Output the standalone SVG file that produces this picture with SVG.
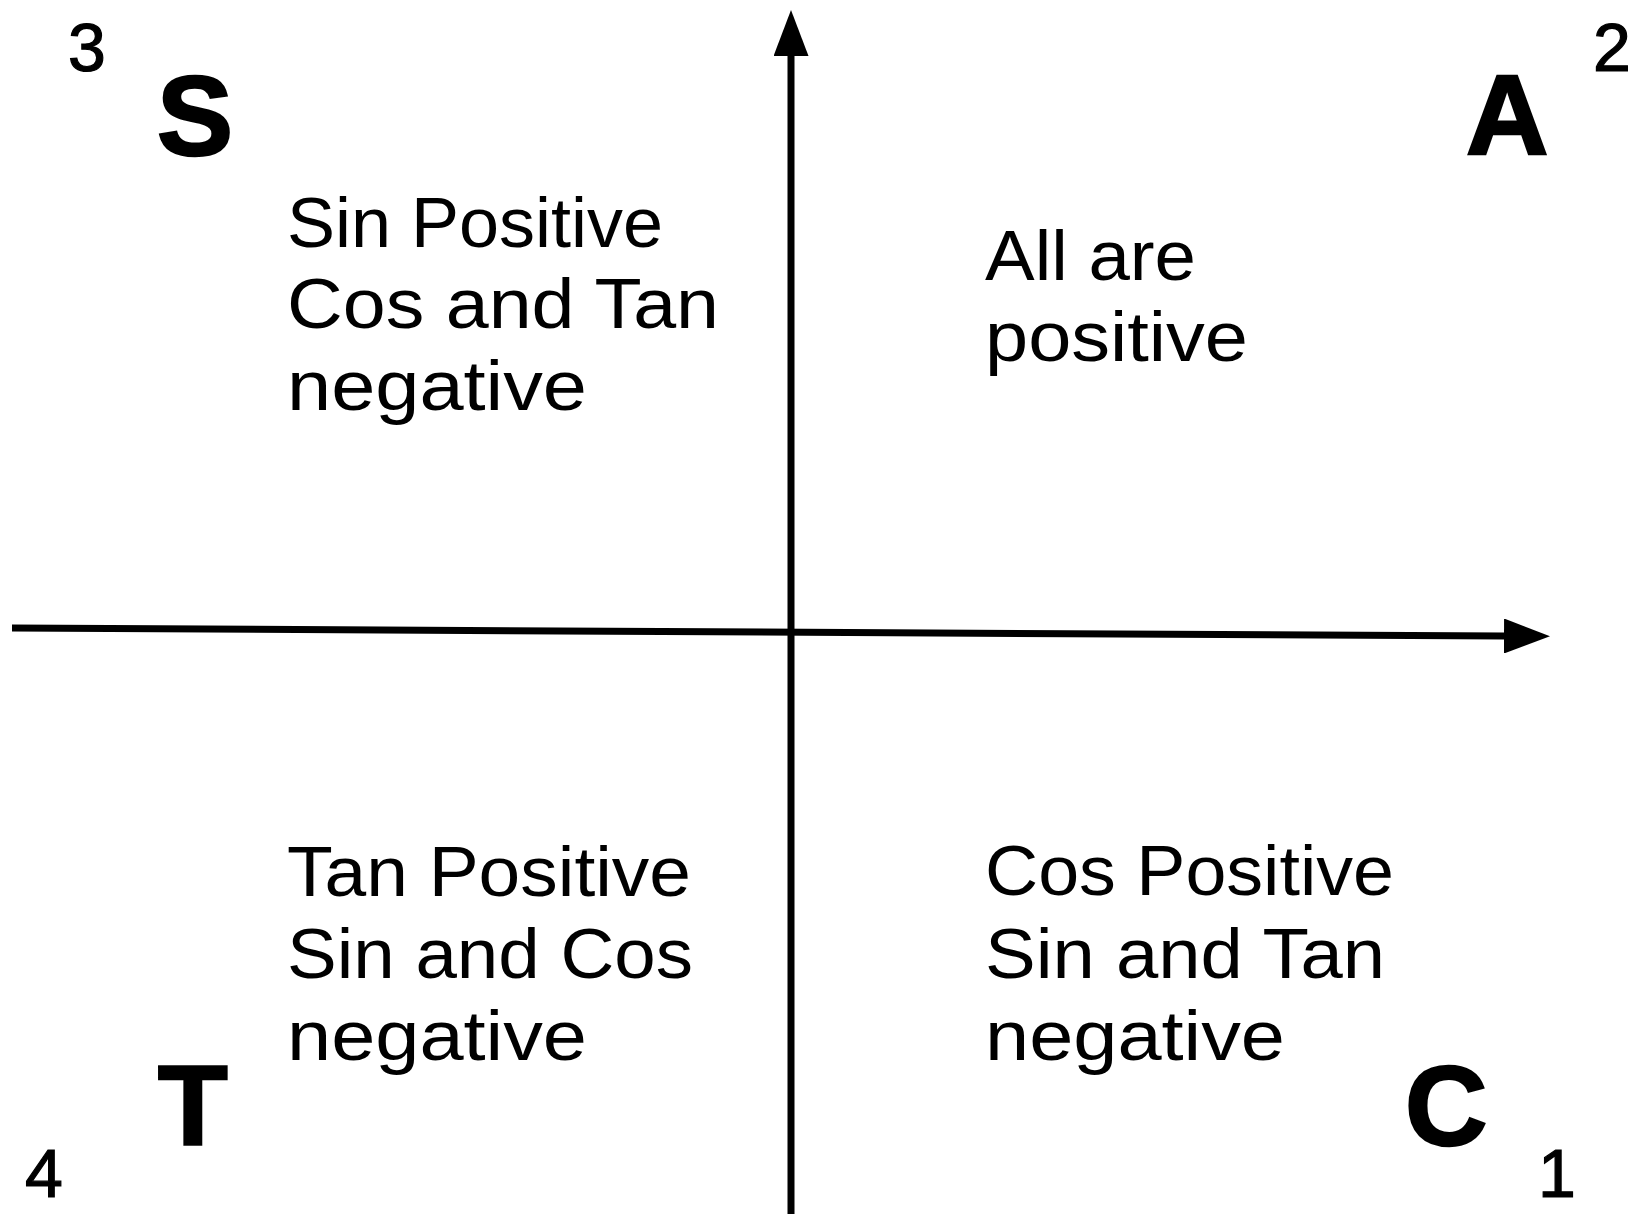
<svg xmlns="http://www.w3.org/2000/svg" width="1638" height="1214" viewBox="0 0 1638 1214">
<defs>
<style>
.axis{stroke:#000;stroke-width:7;fill:none}
.num{font-family:"Liberation Sans",Arial,sans-serif;font-size:68px;fill:#000;stroke:#000;stroke-width:1.2}
.big{font-family:"Liberation Sans",Arial,sans-serif;font-weight:bold;font-size:114px;fill:#000;stroke:#000;stroke-width:2.5}
.body{font-family:"Liberation Sans",Arial,sans-serif;font-size:70px;fill:#000}
</style>
<marker id="arrow" markerUnits="userSpaceOnUse" markerWidth="46" markerHeight="35" refX="0" refY="17.5" orient="auto">
<path d="M0,0 L46,17.5 L0,35 z" fill="#000"/>
</marker>
</defs>
<rect width="1638" height="1214" fill="#fff"/>
<g id="connectors">
<line class="axis" x1="791" y1="1214" x2="791" y2="56" marker-end="url(#arrow)"/>
<line class="axis" x1="12" y1="628" x2="1504" y2="636" marker-end="url(#arrow)"/>
</g>
<g id="corner-numbers">
<text class="num" x="68" y="71">3</text>
<text class="num" x="1593" y="71">2</text>
<text class="num" x="25" y="1197">4</text>
<text class="num" x="1538" y="1197">1</text>
</g>
<g id="quadrant-2">
<text class="big" x="157" y="155">S</text>
<text class="body" x="287" y="247" textLength="376" lengthAdjust="spacingAndGlyphs">Sin Positive</text>
<text class="body" x="287" y="328" textLength="432" lengthAdjust="spacingAndGlyphs">Cos and Tan</text>
<text class="body" x="287" y="410" textLength="300" lengthAdjust="spacingAndGlyphs">negative</text>
</g>
<g id="quadrant-1">
<text class="big" x="1466" y="154">A</text>
<text class="body" x="985" y="280" textLength="211" lengthAdjust="spacingAndGlyphs">All are</text>
<text class="body" x="985" y="361" textLength="263" lengthAdjust="spacingAndGlyphs">positive</text>
</g>
<g id="quadrant-3">
<text class="big" x="158" y="1144">T</text>
<text class="body" x="287" y="896" textLength="404" lengthAdjust="spacingAndGlyphs">Tan Positive</text>
<text class="body" x="287" y="978" textLength="406" lengthAdjust="spacingAndGlyphs">Sin and Cos</text>
<text class="body" x="287" y="1060" textLength="300" lengthAdjust="spacingAndGlyphs">negative</text>
</g>
<g id="quadrant-4">
<text class="big" x="1405" y="1145">C</text>
<text class="body" x="985" y="895" textLength="409" lengthAdjust="spacingAndGlyphs">Cos Positive</text>
<text class="body" x="985" y="978" textLength="400" lengthAdjust="spacingAndGlyphs">Sin and Tan</text>
<text class="body" x="985" y="1060" textLength="300" lengthAdjust="spacingAndGlyphs">negative</text>
</g>
</svg>
